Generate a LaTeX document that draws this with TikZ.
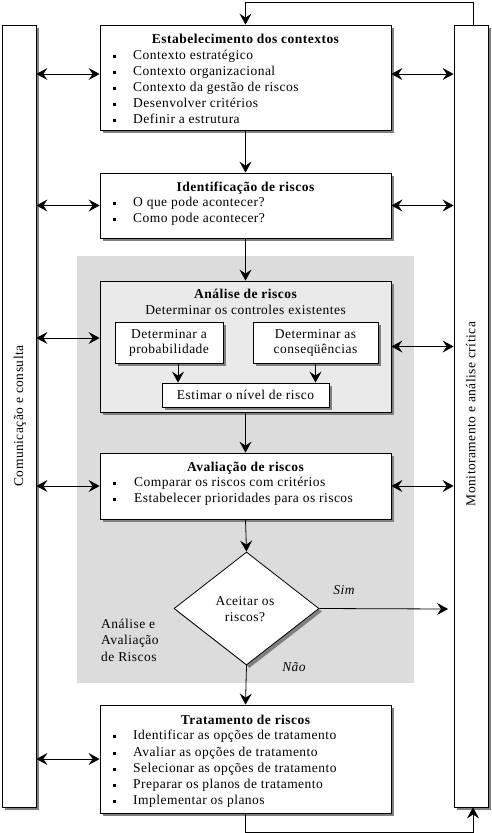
\documentclass[tikz,border=0pt]{standalone}
\usepackage{fontspec}
\setmainfont{Liberation Serif}[LetterSpace=3.5]
\usetikzlibrary{arrows.meta,shapes.geometric,shadows}
\definecolor{regiongray}{RGB}{220,220,220}
\definecolor{boxgray}{RGB}{234,234,234}
\definecolor{shadowgray}{RGB}{128,128,128}
\begin{document}
\begin{tikzpicture}[x=1pt,y=-1pt,
  shad/.style={drop shadow={shadow xshift=3pt,shadow yshift=-3pt,fill=shadowgray,opacity=1}},
  box/.style={draw,line width=0.8pt,fill=white,shad,inner sep=0pt},
  bigbox/.style={box,minimum width=291pt},
  bar/.style={box,minimum width=34pt,minimum height=782pt},
  ml/.style={font=\fontsize{13.5pt}{16pt}\selectfont,inner sep=0pt},
  tx/.style={ml,text height=9.5pt,text depth=3pt},
  ttl/.style={tx,font=\fontsize{13.5pt}{16pt}\selectfont\bfseries},
  itm/.style={tx,anchor=west},
  bul/.style={inner sep=0pt,minimum size=3pt,fill=black},
  tip/.tip={Stealth[length=11pt,width=12pt,inset=4pt]},
  arr/.style={line width=0.8pt,-tip},
  dbl/.style={line width=0.8pt,tip-tip}
]
\useasboundingbox (0,0) rectangle (492,833);
% gray region
\node[fill=regiongray,minimum width=337pt,minimum height=427pt,inner sep=0pt] (region) at (245.5,469.5) {};
% side bars
\node[bar] (lb) at (19,416) {};
\node[tx,rotate=90] (lbt) at (20,416) {Comunicação e consulta};
\node[bar] (rb) at (471,416) {};
\node[tx,rotate=90] (rbt) at (472,414) {Monitoramento e análise crítica};
% box 1
\node[bigbox,minimum height=105pt] (b1) at (245.5,77.5) {};
\node[ttl] (b1t) at (245.5,40) {Estabelecimento dos contextos};
\foreach \y/\t [count=\i] in {56/Contexto estratégico,72/Contexto organizacional,88/Contexto da gestão de riscos,104/Desenvolver critérios,120/Definir a estrutura}{
  \node[bul] (b1b\i) at (114,\y) {};
  \node[itm] (b1i\i) at (133,\y) {\t};
}
% box 2
\node[bigbox,minimum height=65pt] (b2) at (245.5,205.5) {};
\node[ttl] (b2t) at (245.5,188) {Identificação de riscos};
\foreach \y/\t [count=\i] in {203/O que pode acontecer?,219/Como pode acontecer?}{
  \node[bul] (b2b\i) at (114,\y) {};
  \node[itm] (b2i\i) at (133,\y) {\t};
}
% analysis box
\node[bigbox,fill=boxgray,minimum height=131pt] (an) at (245.5,346.5) {};
\node[ttl] (ant) at (245.5,295) {Análise de riscos};
\node[tx] (ans) at (245.5,311) {Determinar os controles existentes};
\node[box,minimum width=108pt,minimum height=41pt,align=center,font=\fontsize{13.5pt}{15pt}\selectfont] (sa) at (169,342.5) {Determinar a\\probabilidade};
\node[box,minimum width=125pt,minimum height=41pt,align=center,font=\fontsize{13.5pt}{15pt}\selectfont] (sb) at (315.5,342.5) {Determinar as\\conseqüências};
\node[box,minimum width=167pt,minimum height=24pt,font=\fontsize{13.5pt}{15pt}\selectfont] (est) at (245.5,395) {Estimar o nível de risco};
% evaluation box
\node[bigbox,minimum height=66pt] (av) at (245.5,486) {};
\node[ttl] (avt) at (245.5,468) {Avaliação de riscos};
\foreach \y/\t [count=\i] in {483/Comparar os riscos com critérios,499/Estabelecer prioridades para os riscos}{
  \node[bul] (avb\i) at (114,\y) {};
  \node[itm] (avi\i) at (134,\y) {\t};
}
% decision
\node[diamond,draw,line width=0.8pt,fill=white,shad,minimum width=145pt,minimum height=113pt,inner sep=0pt] (dec) at (246.5,608.5) {};
\node[ml,align=center] (dect) at (245,609) {Aceitar os\\riscos?};
\node[tx,font=\fontsize{13.5pt}{16pt}\selectfont\itshape] (sim) at (344,591) {Sim};
\node[tx,font=\fontsize{13.5pt}{16pt}\selectfont\itshape] (nao) at (294,668) {Não};
\node[ml,align=left,anchor=west,font=\fontsize{13.5pt}{16.5pt}\selectfont] (reg) at (101,640) {Análise e\\Avaliação\\de Riscos};
% treatment box
\node[bigbox,minimum height=108pt] (tr) at (245.5,759) {};
\node[ttl] (trt) at (245.5,721) {Tratamento de riscos};
\foreach \y/\t [count=\i] in {736/Identificar as opções de tratamento,753/Avaliar as opções de tratamento,769/Selecionar as opções de tratamento,785/Preparar os planos de tratamento,801/Implementar os planos}{
  \node[bul] (trb\i) at (114,\y) {};
  \node[itm] (tri\i) at (133,\y) {\t};
}
% main flow
\draw[arr] (b1.south) -- (b2.north);
\draw[arr] (b2.south) -- (an.north);
\draw[arr] ([xshift=9pt]sa.south) -- ([xshift=9pt]sa.south |- est.north);
\draw[arr] (sb.south) -- (sb.south |- est.north);
\draw[arr] (an.south) -- (av.north);
\draw[arr] (av.south) -- (dec.north);
\draw[arr] (dec.south) -- (tr.north);
\coordinate (simend) at (448,609);
\draw[arr] (dec.east) -- (simend);
% side connectors
\draw[dbl] ([yshift=3.5pt]b1.west) -- ([yshift=3.5pt]b1.west -| lb.east);
\draw[dbl] ([yshift=3.5pt]b1.east) -- ([yshift=3.5pt]b1.east -| rb.west);
\draw[dbl] (b2.west) -- (b2.west -| lb.east);
\draw[dbl] (b2.east) -- (b2.east -| rb.west);
\draw[dbl] ([yshift=8.5pt]an.west) -- ([yshift=8.5pt]an.west -| lb.east);
\draw[dbl] (an.east) -- (an.east -| rb.west);
\draw[dbl] (av.west) -- (av.west -| lb.east);
\draw[dbl] (av.east) -- (av.east -| rb.west);
\draw[dbl] (tr.west) -- (tr.west -| lb.east);
% feedback loops
\coordinate (tp) at (473,2);
\draw[arr] (rb.north -| tp) -- (tp) -| (b1.north);
\coordinate (bt) at (473,832);
\draw[arr] (tr.south) |- (bt) -- (rb.south -| bt);
\end{tikzpicture}
\end{document}
